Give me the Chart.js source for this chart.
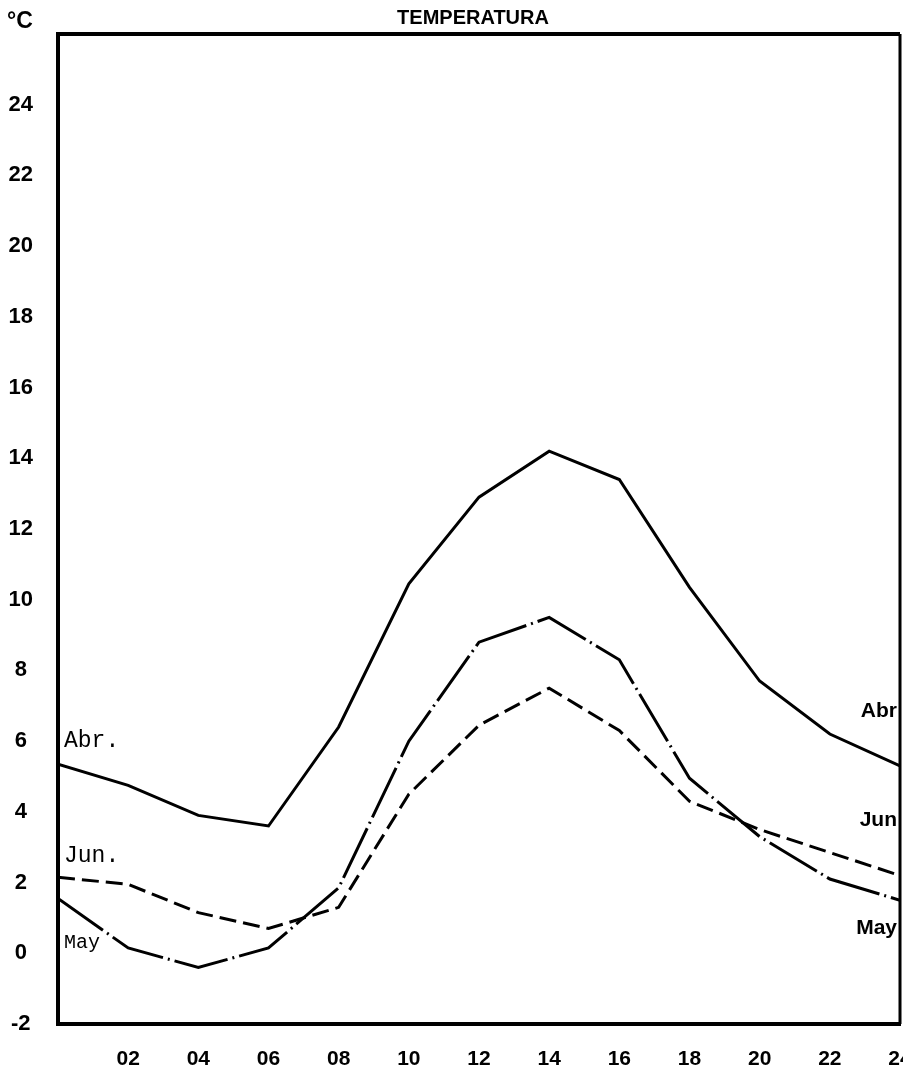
<!DOCTYPE html>
<html>
<head>
<meta charset="utf-8">
<script src="https://cdn.jsdelivr.net/npm/chart.js@4"></script>
<style>
  html, body { margin: 0; padding: 0; background: #fff; }
  #wrap { width: 903px; height: 1075px; }
</style>
</head>
<body>
<div id="wrap"><canvas id="tempChart"></canvas></div>
<script>
// Hours of the day (x values) and their tick labels
var hours = [0, 2, 4, 6, 8, 10, 12, 14, 16, 18, 20, 22, 24];
var hourLabels = ['', '02', '04', '06', '08', '10', '12', '14', '16', '18', '20', '22', '24'];

// Mean temperature (°C) per hour
var abril = [5.35, 4.75, 3.9, 3.6, 6.4, 10.45, 12.9, 14.2, 13.4, 10.35, 7.7, 6.2, 5.3];
var mayo  = [1.55, 0.15, -0.4, 0.15, 1.85, 6.0, 8.8, 9.5, 8.3, 4.95, 3.3, 2.1, 1.5];
var junio = [2.15, 1.95, 1.15, 0.7, 1.3, 4.5, 6.45, 7.5, 6.3, 4.3, 3.5, 2.85, 2.2];

var monthNames = ['Abr', 'May', 'Jun'];
var yTicks = [-2, 0, 2, 4, 6, 8, 10, 12, 14, 16, 18, 20, 22, 24];

function toPoints(values) {
    return values.map((v, i) => ({x: hours[i], y: v}));
}

// Frame, title, unit and the hand-written line names
var decorations = {
    id: 'decorations',
    afterDatasetsDraw(chart) {
        var ctx = chart.ctx;
        var area = chart.chartArea;
        var xs = chart.scales.x, ys = chart.scales.y;
        ctx.save();
        ctx.strokeStyle = '#000';
        ctx.lineWidth = 4;
        ctx.beginPath();
        ctx.moveTo(area.left, area.top);
        ctx.lineTo(area.right, area.top);
        ctx.stroke();
        ctx.lineWidth = 3;
        ctx.beginPath();
        ctx.moveTo(area.right, area.top);
        ctx.lineTo(area.right, area.bottom);
        ctx.stroke();

        ctx.fillStyle = '#000';
        ctx.textBaseline = 'middle';
        ctx.font = 'bold 20px "Liberation Sans"';
        ctx.textAlign = 'center';
        ctx.fillText('TEMPERATURA', 473, 18);

        ctx.textAlign = 'left';
        ctx.font = 'bold 23px "Liberation Sans"';
        ctx.fillText('°C', 7, 22);

        // names at the left end
        ctx.font = '23px "Liberation Mono"';
        ctx.fillText(monthNames[0] + '.', xs.getPixelForValue(0) + 6, ys.getPixelForValue(6.0));
        ctx.fillText(monthNames[2] + '.', xs.getPixelForValue(0) + 6, ys.getPixelForValue(2.75));
        ctx.font = '20px "Liberation Mono"';
        ctx.fillText(monthNames[1], xs.getPixelForValue(0) + 6, ys.getPixelForValue(0.3));

        // names at the right end
        ctx.textAlign = 'right';
        ctx.font = 'bold 21px "Liberation Sans"';
        ctx.fillText(monthNames[0], area.right - 3, ys.getPixelForValue(6.85));
        ctx.fillText(monthNames[2], area.right - 3, ys.getPixelForValue(3.75));
        ctx.fillText(monthNames[1], area.right - 3, ys.getPixelForValue(0.7));
        ctx.restore();
    }
};

var ctx = document.getElementById('tempChart').getContext('2d');
var TempChart = new Chart(ctx, {
    type: 'line',
    data: {
        datasets: [{
            label: 'Abr',
            data: toPoints(abril),
            borderColor: '#000',
            borderWidth: 3
        }, {
            label: 'May',
            data: toPoints(mayo),
            borderColor: '#000',
            borderWidth: 3,
            borderDash: [55, 5, 2, 5]
        }, {
            label: 'Jun',
            data: toPoints(junio),
            borderColor: '#000',
            borderWidth: 3,
            borderDash: [17, 7]
        }]
    },
    options: {
        responsive: true,
        maintainAspectRatio: false,
        animation: false,
        elements: {
            point: { radius: 0 },
            line: { tension: 0, borderJoinStyle: 'miter' }
        },
        layout: {
            padding: { top: 34, right: 3, left: 0, bottom: 0 }
        },
        plugins: {
            legend: { display: false },
            title: { display: false },
            tooltip: { enabled: false }
        },
        scales: {
            x: {
                type: 'linear',
                min: 0,
                max: 24,
                grid: { display: false },
                border: { display: true, color: '#000', width: 4 },
                afterBuildTicks: function (scale) {
                    scale.ticks = hours.map(h => ({value: h}));
                },
                afterFit: function (scale) {
                    scale.height = 51;
                    scale.paddingLeft = 0;
                    scale.paddingRight = 0;
                },
                ticks: {
                    color: '#000',
                    padding: 15,
                    maxRotation: 0,
                    autoSkip: false,
                    font: { family: 'Liberation Sans', size: 21, weight: 'bold' },
                    callback: function (value) {
                        return hourLabels[hours.indexOf(value)];
                    }
                }
            },
            y: {
                min: -2,
                max: 26,
                grid: { display: false },
                border: { display: true, color: '#000', width: 4 },
                afterBuildTicks: function (scale) {
                    scale.ticks = yTicks.map(v => ({value: v}));
                },
                afterFit: function (scale) {
                    scale.width = 58;
                    scale.paddingTop = 0;
                    scale.paddingBottom = 0;
                },
                ticks: {
                    color: '#000',
                    padding: 17,
                    crossAlign: 'center',
                    font: { family: 'Liberation Sans', size: 22, weight: 'bold' }
                }
            }
        }
    },
    plugins: [decorations]
});
</script>
</body>
</html>
